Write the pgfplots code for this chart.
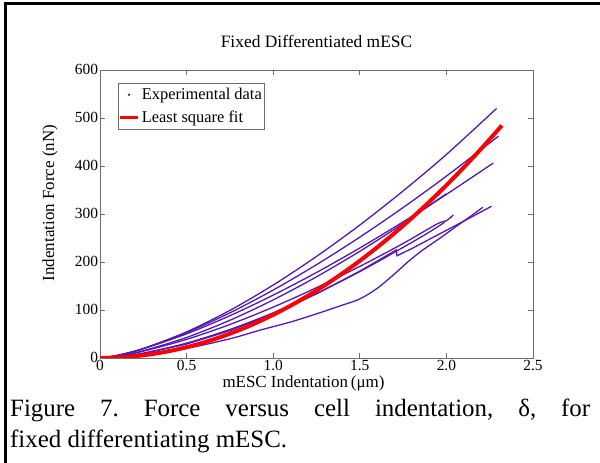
\documentclass[border=0pt]{standalone}
\usepackage{fontspec}
\setmainfont{Liberation Serif}
\usepackage{pgfplots}
\pgfplotsset{compat=1.18}
\definecolor{purp}{RGB}{85,25,175}
\definecolor{axgray}{RGB}{110,110,110}
\begin{document}
\frenchspacing
\begin{tikzpicture}[x=1bp,y=1bp]
\useasboundingbox (0,0) rectangle (600,463);
\fill[white] (0,0) rectangle (600,463);
\draw[line width=3bp] (5,0) -- (5,459.5) -- (600,459.5);
\begin{axis}[
  at={(100bp,105bp)}, anchor=south west,
  scale only axis, width=433bp, height=288bp,
  xmin=0, xmax=2.5, ymin=0, ymax=600,
  xtick={0,0.5,1,1.5,2,2.5},
  xticklabels={0,0.5,1.0,1.5,2.0,2.5},
  ytick={0,100,200,300,400,500,600},
  /pgf/number format/assume math mode=true,
  tick align=inside, major tick length=5bp,
  axis line style={axgray, line width=0.8bp},
  every tick/.style={axgray, line width=0.8bp},
  tick label style={font=\fontsize{15.5}{17}\selectfont, black},
  yticklabel style={xshift=1.5bp, yshift=1bp},
  xticklabel style={yshift=1bp},
  title={Fixed Differentiated mESC},
  title style={font=\fontsize{17.5}{19}\selectfont, at={(axis description cs:0.5,1)}, anchor=base, yshift=17bp},
  xlabel={mESC Indentation\,(μm)},
  xlabel style={font=\fontsize{17}{19}\selectfont, at={(axis description cs:0.47,0)}, anchor=north, yshift=-18bp, inner sep=0pt},
  ylabel={Indentation Force (nN)},
  ylabel style={font=\fontsize{17}{19}\selectfont, at={(axis description cs:-0.1155,0.538)}, anchor=center},
  legend style={at={(axis description cs:0.0416,0.955)}, anchor=north west, draw=axgray, line width=0.6bp,
    font=\fontsize{16.5}{18}\selectfont, inner xsep=0bp, inner ysep=3bp, row sep=6bp, cells={anchor=west}},
  legend cell align=left,
]
\addlegendimage{legend image code/.code={\fill[purp] (9bp,0bp) circle (0.9bp);}}
\addlegendentry{Experimental data}
\addlegendimage{legend image code/.code={\draw[red, line width=3.5bp] (0bp,0bp) -- (18bp,0bp);}}
\addlegendentry{Least square fit}

\addplot[purp, line width=1.3bp, smooth, forget plot] coordinates {(0,0)(0.1,5.0)(0.25,19.5)(0.5,54.4)(0.75,99.2)(1.0,152)(1.25,211.6)(1.5,277)(1.75,348)(2.0,424)(2.29,520)};
\addplot[purp, line width=1.3bp, smooth, forget plot] coordinates {(0,0)(0.1,5.4)(0.25,19.8)(0.5,52.9)(0.75,94.1)(1.0,141.6)(1.25,194.4)(1.5,251.8)(1.75,313.4)(2.0,378.9)(2.30,462)};
\addplot[purp, line width=1.3bp, smooth, forget plot] coordinates {(0,0)(0.1,5.5)(0.25,19.3)(0.5,50.3)(0.75,88.1)(1.0,131)(1.25,178.2)(1.5,229.2)(1.75,283.6)(2.0,340.9)(2.27,406)};
\addplot[purp, line width=1.3bp, smooth, forget plot] coordinates {(0,0)(0.1,3.8)(0.25,15.1)(0.5,42.8)(0.75,78.6)(1.0,121)(1.25,169.1)(1.5,222.3)(1.75,280.1)(2.0,342.2)};
\addplot[purp, line width=1.3bp, forget plot] coordinates {(0,0)(0.1,2.0)(0.25,9.1)(0.5,29.0)(0.75,56.9)(1.0,92)(1.25,133.5)(1.5,180.9)(1.71,225)(1.715,213)(1.8,228)(1.9,247)(2.0,266)(2.1,285)(2.26,316)};
\addplot[purp, line width=1.3bp, smooth, forget plot] coordinates {(0,0)(0.1,1.6)(0.25,6)(0.5,20)(0.75,40)(0.924,58)(1.1,75)(1.25,92)(1.39,109)(1.5,123)(1.6,145)(1.7,175)(1.78,201)(1.86,224)(1.96,249)(2.06,275)(2.15,298)(2.21,314)};
\addplot[purp, line width=1.3bp, smooth, forget plot] coordinates {(0,0)(0.1,3.8)(0.25,14.2)(0.5,38.8)(0.75,69.8)(1.0,106)(1.25,146.5)(1.5,190.8)(1.75,238.6)(1.95,280)(2.0,286)(2.04,298)};
\addplot[purp, line width=1.3bp, smooth, forget plot] coordinates {(0,0)(0.1,2.4)(0.25,10.2)(0.5,31.0)(0.75,59.4)(1.0,94.1)(1.25,134.5)(1.5,180.0)(1.75,230.4)(1.9,262)(1.99,283)};
\addplot[red, line width=4bp, smooth, forget plot] coordinates {(0,0)(0.1,0.9)(0.2,3.6)(0.3,8.1)(0.4,14.4)(0.5,22.5)(0.6,32.4)(0.7,44.1)(0.8,57.6)(0.9,72.9)(1.0,90)(1.1,108.9)(1.2,129.6)(1.3,152.1)(1.4,176.4)(1.5,202.5)(1.6,230.4)(1.7,260.1)(1.8,291.6)(1.9,324.9)(2.0,360)(2.1,396.9)(2.2,435.6)(2.3,476.1)(2.32,484.4)};
\end{axis}
\node[anchor=base west, inner sep=0pt, font=\fontsize{25}{30}\selectfont] at (10,46) {\makebox[580bp][s]{Figure 7. Force versus cell indentation, δ, for}};
\node[anchor=base west, inner sep=0pt, font=\fontsize{25}{30}\selectfont] at (10,15) {fixed differentiating mESC.};
\end{tikzpicture}
\end{document}
